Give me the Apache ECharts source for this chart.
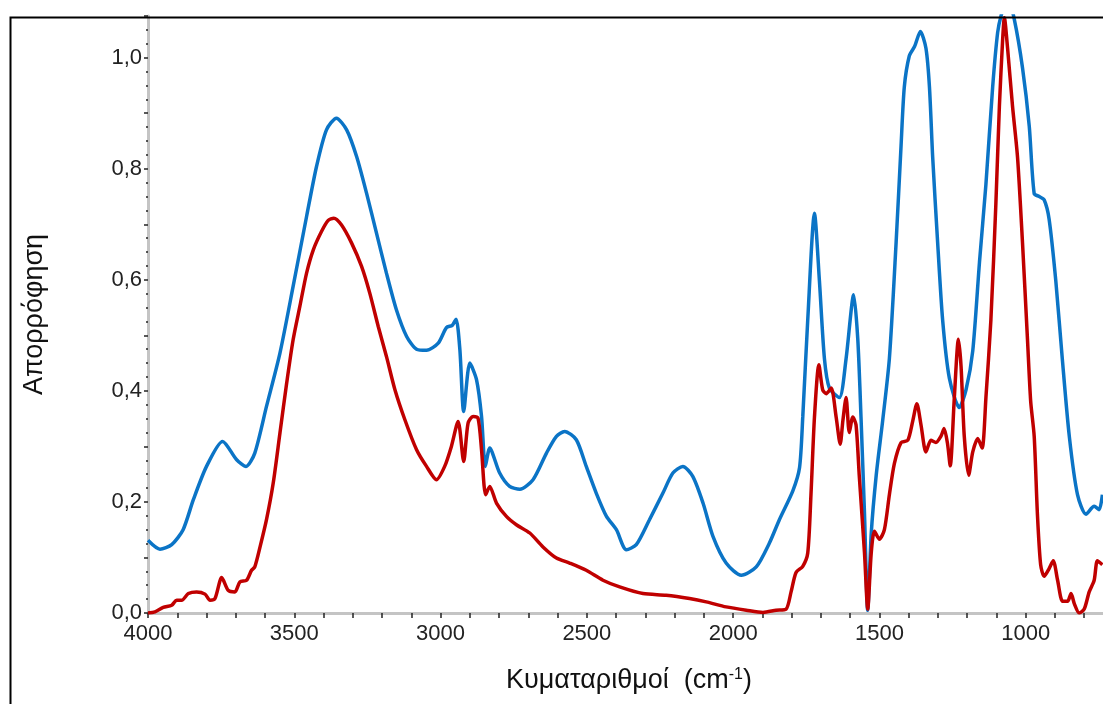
<!DOCTYPE html>
<html>
<head>
<meta charset="utf-8">
<title>Απορρόφηση</title>
<script src="https://cdn.jsdelivr.net/npm/echarts@6/dist/echarts.min.js"></script>
<style>
  html, body { margin: 0; padding: 0; background: #fff; }
  #chart { width: 1103px; height: 704px; }
</style>
</head>
<body>
<div id="chart"></div>
<script>
// blue spectrum (wavenumber cm-1, absorbance)
var blueWavenumbers = [4000, 3959, 3919, 3880, 3845, 3800, 3745, 3697, 3665, 3635, 3595, 3549, 3504, 3458, 3424, 3390, 3356, 3321, 3287, 3253, 3219, 3185, 3151, 3116, 3082, 3048, 3008, 2980, 2960, 2947, 2934, 2921, 2900, 2877, 2860, 2847, 2832, 2798, 2764, 2729, 2684, 2638, 2604, 2576, 2536, 2502, 2468, 2433, 2399, 2365, 2331, 2286, 2240, 2206, 2172, 2138, 2103, 2069, 2024, 1972, 1921, 1876, 1842, 1796, 1773, 1762, 1745, 1722, 1705, 1688, 1671, 1637, 1614, 1588, 1574, 1563, 1551, 1540, 1528, 1511, 1489, 1466, 1443, 1426, 1415, 1398, 1380, 1360, 1341, 1329, 1318, 1301, 1284, 1261, 1227, 1204, 1181, 1158, 1136, 1113, 1096, 1084, 1062, 1039, 1011, 988, 971, 954, 937, 920, 897, 875, 851, 823, 794, 766, 749, 738];
var blueAbsorbance = [0.131, 0.115, 0.123, 0.150, 0.204, 0.264, 0.309, 0.276, 0.264, 0.288, 0.372, 0.468, 0.588, 0.714, 0.804, 0.870, 0.891, 0.870, 0.822, 0.756, 0.684, 0.612, 0.546, 0.498, 0.475, 0.473, 0.486, 0.514, 0.518, 0.529, 0.474, 0.363, 0.450, 0.420, 0.354, 0.264, 0.297, 0.252, 0.228, 0.223, 0.240, 0.288, 0.318, 0.327, 0.312, 0.264, 0.216, 0.174, 0.150, 0.114, 0.123, 0.168, 0.216, 0.252, 0.264, 0.246, 0.198, 0.138, 0.090, 0.068, 0.083, 0.126, 0.168, 0.220, 0.262, 0.353, 0.528, 0.720, 0.597, 0.458, 0.405, 0.388, 0.458, 0.573, 0.493, 0.353, 0.178, 0.005, 0.143, 0.248, 0.346, 0.458, 0.667, 0.842, 0.947, 1.003, 1.020, 1.047, 1.017, 0.947, 0.821, 0.667, 0.528, 0.423, 0.370, 0.402, 0.472, 0.632, 0.772, 0.947, 1.045, 1.076, 1.110, 1.069, 0.982, 0.877, 0.755, 0.750, 0.744, 0.709, 0.597, 0.458, 0.318, 0.213, 0.178, 0.192, 0.186, 0.213];

// red spectrum
var redWavenumbers = [4000, 3976, 3948, 3919, 3902, 3885, 3862, 3834, 3805, 3788, 3771, 3748, 3726, 3703, 3686, 3663, 3646, 3635, 3617, 3595, 3572, 3549, 3526, 3504, 3481, 3458, 3435, 3407, 3384, 3365, 3339, 3304, 3270, 3242, 3213, 3185, 3156, 3122, 3082, 3048, 3014, 2986, 2963, 2940, 2921, 2906, 2889, 2872, 2860, 2846, 2832, 2809, 2775, 2741, 2695, 2650, 2604, 2559, 2502, 2445, 2388, 2308, 2229, 2149, 2092, 2024, 1955, 1898, 1853, 1819, 1802, 1785, 1762, 1745, 1734, 1722, 1707, 1694, 1682, 1665, 1648, 1634, 1625, 1614, 1603, 1591, 1580, 1569, 1551, 1540, 1528, 1517, 1500, 1483, 1466, 1449, 1426, 1403, 1386, 1372, 1358, 1341, 1324, 1307, 1290, 1279, 1267, 1258, 1244, 1230, 1221, 1210, 1195, 1181, 1164, 1149, 1136, 1119, 1102, 1090, 1079, 1073, 1062, 1045, 1028, 1011, 994, 983, 971, 960, 949, 937, 920, 906, 891, 874, 857, 845, 834, 817, 800, 783, 766, 755, 738];
var redAbsorbance = [0.000, 0.002, 0.010, 0.014, 0.023, 0.023, 0.035, 0.038, 0.034, 0.023, 0.026, 0.064, 0.041, 0.038, 0.056, 0.059, 0.077, 0.083, 0.119, 0.168, 0.234, 0.324, 0.414, 0.492, 0.552, 0.612, 0.654, 0.687, 0.707, 0.711, 0.699, 0.666, 0.624, 0.576, 0.516, 0.462, 0.402, 0.348, 0.294, 0.264, 0.240, 0.264, 0.300, 0.345, 0.273, 0.342, 0.354, 0.351, 0.294, 0.213, 0.228, 0.198, 0.174, 0.159, 0.144, 0.119, 0.099, 0.090, 0.077, 0.059, 0.047, 0.035, 0.032, 0.026, 0.020, 0.011, 0.005, 0.001, 0.005, 0.007, 0.038, 0.073, 0.084, 0.108, 0.213, 0.353, 0.447, 0.402, 0.395, 0.405, 0.353, 0.304, 0.346, 0.388, 0.325, 0.353, 0.339, 0.248, 0.108, 0.007, 0.108, 0.147, 0.133, 0.150, 0.213, 0.269, 0.307, 0.311, 0.346, 0.377, 0.339, 0.290, 0.311, 0.307, 0.318, 0.332, 0.304, 0.265, 0.388, 0.493, 0.444, 0.318, 0.248, 0.290, 0.314, 0.297, 0.388, 0.528, 0.737, 0.912, 1.031, 1.072, 1.017, 0.912, 0.821, 0.667, 0.493, 0.381, 0.318, 0.178, 0.087, 0.066, 0.080, 0.094, 0.059, 0.021, 0.021, 0.035, 0.017, 0.000, 0.007, 0.038, 0.059, 0.094, 0.087];

var xTicks = [4000, 3500, 3000, 2500, 2000, 1500, 1000, 500];
var yTicks = [0.0, 0.2, 0.4, 0.6, 0.8, 1.0];

function pairs(xs, ys) {
  var out = [];
  for (var i = 0; i < xs.length; i++) {
    out.push([xs[i], ys[i]]);
  }
  return out;
}

var myChart = echarts.init(document.getElementById("chart"));
var font = "'Liberation Sans', Arial, sans-serif";

var option = {
  animation: false,
  // the plot runs on past the right edge, like the picture
  grid: {
    left: 148, right: -69, top: 16, bottom: 91,
    containLabel: false,
    outerBoundsMode: "none"
  },
  graphic: [
    {
      type: "rect",
      left: 8,
      top: 15,
      shape: { width: 1300, height: 900 },
      style: { fill: "none", stroke: "#000", lineWidth: 2 },
      z: 100
    }
  ],
  xAxis: {
    type: "value",
    inverse: true,
    min: xTicks[xTicks.length - 1],
    max: xTicks[0],
    interval: 500,
    name: "Κυματαριθμοί  (cm{sup|-1})",
    nameLocation: "middle",
    nameGap: 54,
    nameTextStyle: {
      color: "#111",
      fontSize: 27,
      fontFamily: font,
      padding: [0, 62, 0, 0],
      rich: {
        sup: { fontSize: 16, verticalAlign: "top", padding: [0, 0, 12, 0], color: "#111", fontFamily: font }
      }
    },
    axisLine: { show: true, onZero: false, lineStyle: { color: "#c4c4c4", width: 3 } },
    axisTick: { show: true, length: 5, lineStyle: { color: "#222", width: 1.5 } },
    minorTick: { show: true, splitNumber: 5, length: 5, lineStyle: { color: "#222", width: 1.5 } },
    splitLine: { show: false },
    axisLabel: {
      color: "#222",
      fontSize: 22,
      fontFamily: font,
      margin: 10,
      formatter: function (v) { return String(v); }
    }
  },
  yAxis: {
    type: "value",
    min: 0,
    max: 1.075,
    interval: 0.1,
    name: "Απορρόφηση",
    nameLocation: "middle",
    nameGap: 100,
    nameTextStyle: { color: "#111", fontSize: 27, fontFamily: font },
    axisLine: { show: true, onZero: false, lineStyle: { color: "#c4c4c4", width: 3 } },
    axisTick: { show: true, length: 4, lineStyle: { color: "#222", width: 1.5 } },
    minorTick: { show: true, splitNumber: 4, length: 2, lineStyle: { color: "#222", width: 1.5 } },
    splitLine: { show: false },
    axisLabel: {
      color: "#222",
      fontSize: 22,
      fontFamily: font,
      margin: 6,
      formatter: function (v) {
        for (var i = 0; i < yTicks.length; i++) {
          if (Math.abs(yTicks[i] - v) < 1e-6) return v.toFixed(1).replace(".", ",");
        }
        return "";
      }
    }
  },
  series: [
    {
      name: "blue",
      type: "line",
      data: pairs(blueWavenumbers, blueAbsorbance),
      showSymbol: false,
      smooth: 0.25,
      clip: true,
      lineStyle: { color: "#0b74c6", width: 3.5 },
      z: 2
    },
    {
      name: "red",
      type: "line",
      data: pairs(redWavenumbers, redAbsorbance),
      showSymbol: false,
      smooth: 0.25,
      clip: true,
      lineStyle: { color: "#c00000", width: 3.5 },
      z: 3
    }
  ]
};

myChart.setOption(option);
</script>
</body>
</html>
